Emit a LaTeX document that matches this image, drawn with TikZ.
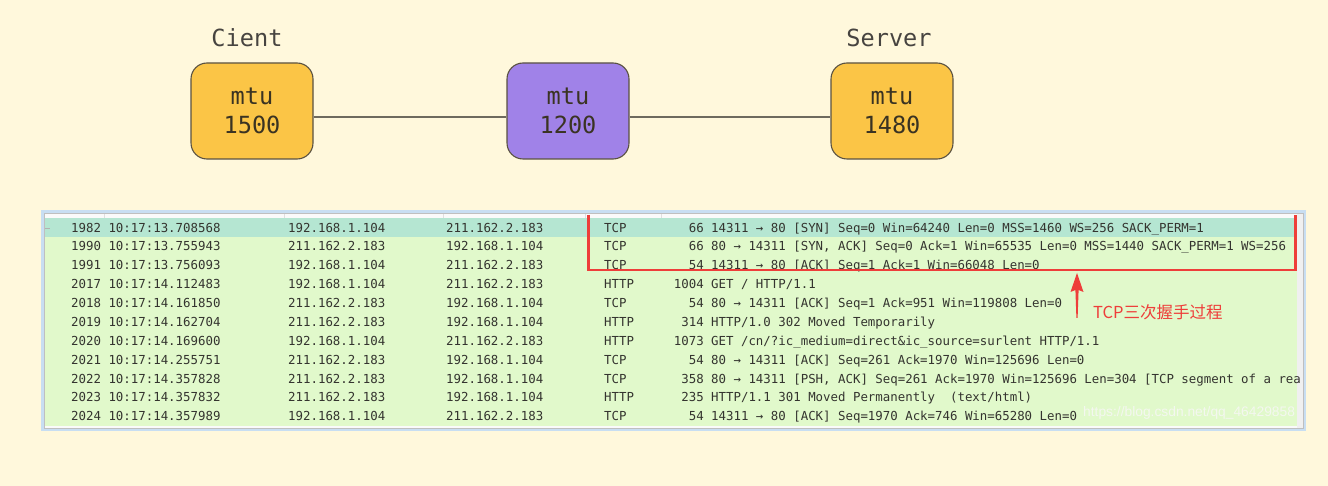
\documentclass[tikz,border=0pt]{standalone}
\usepackage{fontspec}
\newfontfamily\monof{DejaVu Sans Mono}
\newfontfamily\cjkf{Noto Sans CJK SC}
\newfontfamily\sansf{Liberation Sans}
\usetikzlibrary{arrows.meta}
\definecolor{bg}{HTML}{FFF8DC}
\definecolor{boxyellow}{HTML}{FBC546}
\definecolor{boxpurple}{HTML}{A082E8}
\definecolor{boxline}{HTML}{5A5242}
\definecolor{boxtext}{HTML}{3A3322}
\definecolor{lbltext}{HTML}{474440}
\definecolor{linkc}{HTML}{6E6A5E}
\definecolor{rowsel}{HTML}{B5E6D2}
\definecolor{rowgreen}{HTML}{E1F9CB}
\definecolor{tabtext}{HTML}{34342F}
\definecolor{glow}{HTML}{C8DEF2}
\definecolor{annred}{HTML}{EE3E3A}
\definecolor{wmark}{HTML}{F4F7F0}
\newcommand\pktrow[7]{%
  \node[cell,anchor=west] (r#1a) at (71,{227.6+18.87*(#1-1)}) {#2};
  \node[cell,anchor=west] (r#1b) at (288,{227.6+18.87*(#1-1)}) {#3};
  \node[cell,anchor=west] (r#1c) at (446,{227.6+18.87*(#1-1)}) {#4};
  \node[cell,anchor=west] (r#1d) at (604,{227.6+18.87*(#1-1)}) {#5};
  \node[cell,anchor=east] (r#1e) at (704,{227.6+18.87*(#1-1)}) {#6};
  \node[cell,anchor=west] (r#1f) at (711,{227.6+18.87*(#1-1)}) {#7};
}
\begin{document}
\begin{tikzpicture}[x=1pt,y=-1pt,
  mtubox/.style={draw=boxline,line width=1.1pt,rounded corners=16pt,minimum width=122pt,minimum height=96pt,
    inner sep=0pt,align=center,text=boxtext,font=\monof\fontsize{23.6}{29}\selectfont},
  toplabel/.style={inner sep=0pt,text=lbltext,font=\monof\fontsize{23.6}{28}\selectfont},
  link/.style={draw=linkc,line width=1.4pt},
  cell/.style={inner sep=0pt,text=tabtext,text height=9pt,text depth=0pt,font=\monof\fontsize{12.4}{14}\selectfont},
  redline/.style={draw=annred,line width=2.4pt}]
\useasboundingbox (0,0) rectangle (1328,486);
\fill[bg] (0,0) rectangle (1328,486);

% top diagram
\node[mtubox,fill=boxyellow] (cbox) at (252,111) {\raisebox{-2pt}{mtu}\\\raisebox{-2pt}{1500}};
\node[mtubox,fill=boxpurple] (mbox) at (568,111) {\raisebox{-2pt}{mtu}\\\raisebox{-2pt}{1200}};
\node[mtubox,fill=boxyellow] (sbox) at (892,111) {\raisebox{-2pt}{mtu}\\\raisebox{-2pt}{1480}};
\node[toplabel] (clbl) at (247,38) {Cient};
\node[toplabel] (slbl) at (889,38) {Server};
\draw[link] ([yshift=-6pt]cbox.east) -- ([yshift=-6pt]mbox.west);
\draw[link] ([yshift=-6pt]mbox.east) -- ([yshift=-6pt]sbox.west);

% table frame
\draw[glow,line width=2.6pt] (42.5,211.8) rectangle (1304.5,429.8);
\fill[white!96!gray] (44,213) rectangle (1303,428);
\foreach \xs in {104,284,443,585,661}{\draw[gray!25,line width=0.5pt] (\xs,213) -- (\xs,218);}
\fill[rowsel] (44,218) rectangle (1297,237);
\foreach \i in {1,...,10}{\fill[rowgreen] (44,{218+18.87*\i}) rectangle (1297,{218+18.87*(\i+1)});}
\fill[gray!12] (1297,213) rectangle (1303,428);
\draw[gray!50,line width=0.6pt] (44,213) rectangle (1303,428);
\draw[gray!60,line width=0.8pt] (45,228) -- (50,228);

\pktrow{1}{1982 10:17:13.708568}{192.168.1.104}{211.162.2.183}{TCP}{66}{14311 → 80 [SYN] Seq=0 Win=64240 Len=0 MSS=1460 WS=256 SACK\_PERM=1}
\pktrow{2}{1990 10:17:13.755943}{211.162.2.183}{192.168.1.104}{TCP}{66}{80 → 14311 [SYN, ACK] Seq=0 Ack=1 Win=65535 Len=0 MSS=1440 SACK\_PERM=1 WS=256}
\pktrow{3}{1991 10:17:13.756093}{192.168.1.104}{211.162.2.183}{TCP}{54}{14311 → 80 [ACK] Seq=1 Ack=1 Win=66048 Len=0}
\pktrow{4}{2017 10:17:14.112483}{192.168.1.104}{211.162.2.183}{HTTP}{1004}{GET / HTTP/1.1}
\pktrow{5}{2018 10:17:14.161850}{211.162.2.183}{192.168.1.104}{TCP}{54}{80 → 14311 [ACK] Seq=1 Ack=951 Win=119808 Len=0}
\pktrow{6}{2019 10:17:14.162704}{211.162.2.183}{192.168.1.104}{HTTP}{314}{HTTP/1.0 302 Moved Temporarily}
\pktrow{7}{2020 10:17:14.169600}{192.168.1.104}{211.162.2.183}{HTTP}{1073}{GET /cn/?ic\_medium=direct\&ic\_source=surlent HTTP/1.1}
\pktrow{8}{2021 10:17:14.255751}{211.162.2.183}{192.168.1.104}{TCP}{54}{80 → 14311 [ACK] Seq=261 Ack=1970 Win=125696 Len=0}
\pktrow{9}{2022 10:17:14.357828}{211.162.2.183}{192.168.1.104}{TCP}{358}{80 → 14311 [PSH, ACK] Seq=261 Ack=1970 Win=125696 Len=304 [TCP segment of a rea}
\pktrow{10}{2023 10:17:14.357832}{211.162.2.183}{192.168.1.104}{HTTP}{235}{HTTP/1.1 301 Moved Permanently\ \ (text/html)}
\pktrow{11}{2024 10:17:14.357989}{192.168.1.104}{211.162.2.183}{TCP}{54}{14311 → 80 [ACK] Seq=1970 Ack=746 Win=65280 Len=0}

% watermark
\node[anchor=west,inner sep=0pt,text=wmark,font=\sansf\fontsize{13.8}{16}\selectfont] (wm) at (1083,413) {https://blog.csdn.net/qq\_46429858};

% red annotation
\draw[redline] (588.5,215) -- (588.5,270) -- (1295.5,270) -- (1295.5,215);
\coordinate (arrtip) at (1077,273);
\fill[annred] (arrtip) -- (1083.5,292) -- (1078.6,290) -- (1077.6,318) -- (1076.4,318) -- (1075.4,290) -- (1070.5,292) -- cycle;
\node[anchor=west,inner sep=0pt,text=annred,font=\cjkf\fontsize{16.5}{18}\selectfont] (anntxt) at (1093,312) {TCP三次握手过程};
\end{tikzpicture}
\end{document}
